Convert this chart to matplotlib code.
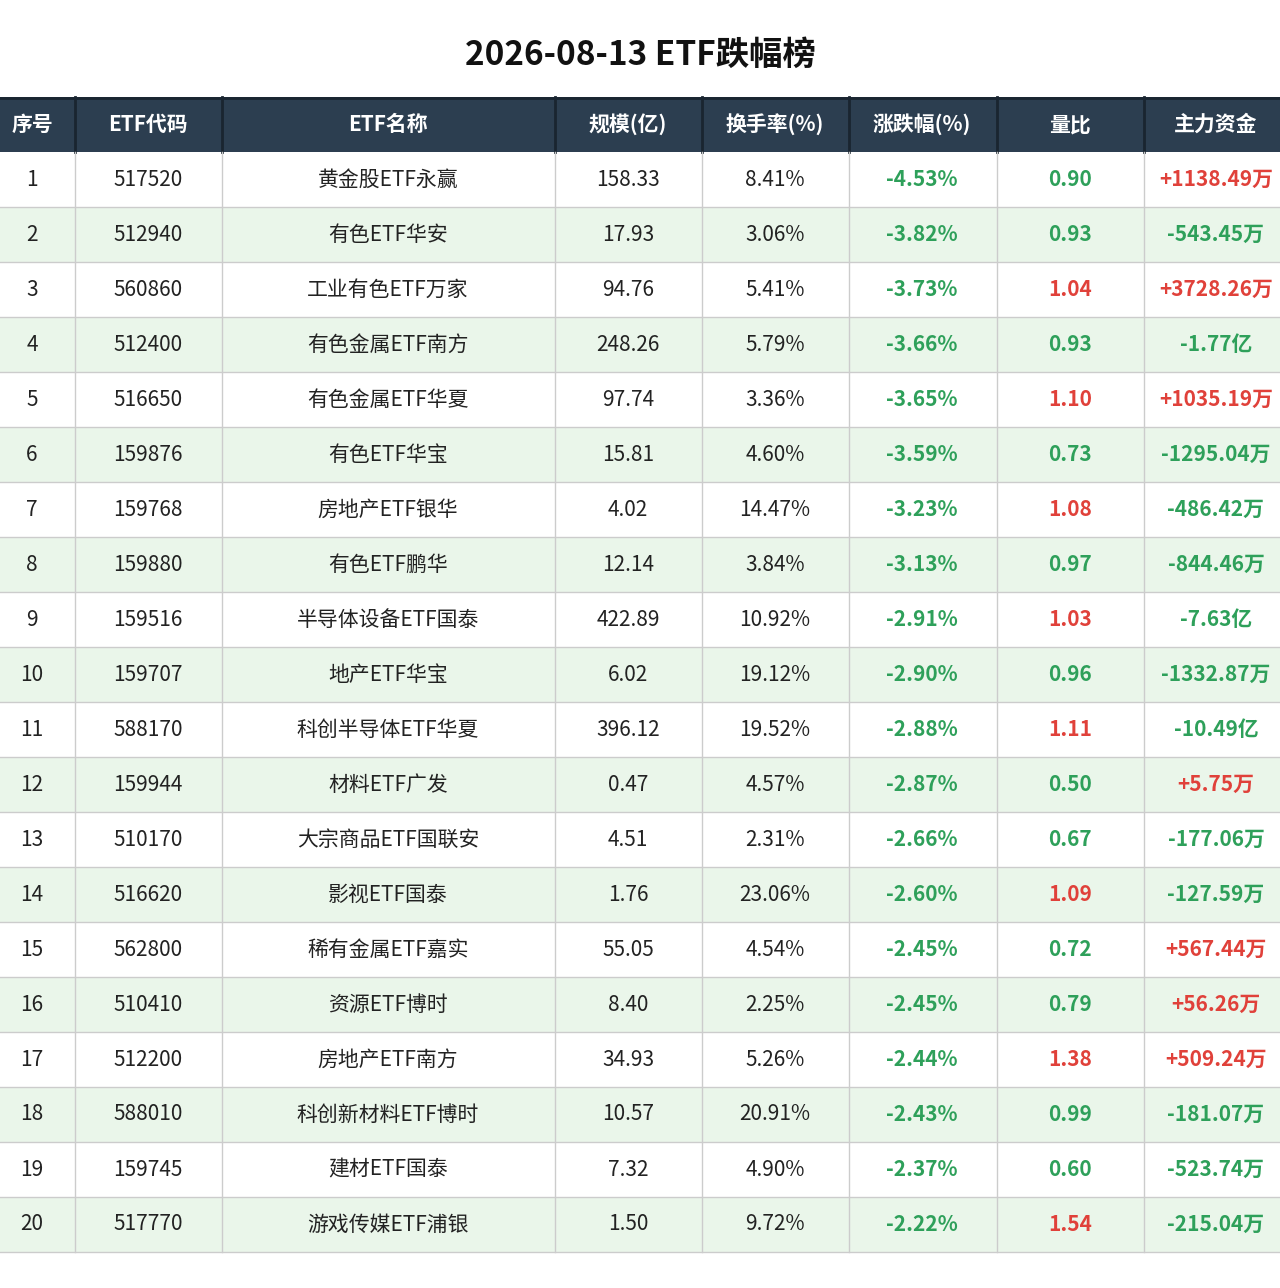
import matplotlib
matplotlib.use("Agg")
import matplotlib.pyplot as plt
from matplotlib.patches import Rectangle

plt.rcParams['font.family'] = ['Noto Sans CJK SC', 'DejaVu Sans']

title = "2026-08-13 ETF跌幅榜"
headers = ["序号", "ETF代码", "ETF名称", "规模(亿)", "换手率(%)", "涨跌幅(%)", "量比", "主力资金"]
codes = ["517520","512940","560860","512400","516650","159876","159768","159880","159516","159707",
         "588170","159944","510170","516620","562800","510410","512200","588010","159745","517770"]
names = ["黄金股ETF永赢","有色ETF华安","工业有色ETF万家","有色金属ETF南方","有色金属ETF华夏","有色ETF华宝",
         "房地产ETF银华","有色ETF鹏华","半导体设备ETF国泰","地产ETF华宝","科创半导体ETF华夏","材料ETF广发",
         "大宗商品ETF国联安","影视ETF国泰","稀有金属ETF嘉实","资源ETF博时","房地产ETF南方","科创新材料ETF博时",
         "建材ETF国泰","游戏传媒ETF浦银"]
scale = [158.33,17.93,94.76,248.26,97.74,15.81,4.02,12.14,422.89,6.02,396.12,0.47,4.51,1.76,55.05,8.40,34.93,10.57,7.32,1.50]
turnover = [8.41,3.06,5.41,5.79,3.36,4.60,14.47,3.84,10.92,19.12,19.52,4.57,2.31,23.06,4.54,2.25,5.26,20.91,4.90,9.72]
change = [-4.53,-3.82,-3.73,-3.66,-3.65,-3.59,-3.23,-3.13,-2.91,-2.90,-2.88,-2.87,-2.66,-2.60,-2.45,-2.45,-2.44,-2.43,-2.37,-2.22]
vol_ratio = [0.90,0.93,1.04,0.93,1.10,0.73,1.08,0.97,1.03,0.96,1.11,0.50,0.67,1.09,0.72,0.79,1.38,0.99,0.60,1.54]
flow = ["+1138.49万","-543.45万","+3728.26万","-1.77亿","+1035.19万","-1295.04万","-486.42万","-844.46万",
        "-7.63亿","-1332.87万","-10.49亿","+5.75万","-177.06万","-127.59万","+567.44万","+56.26万",
        "+509.24万","-181.07万","-523.74万","-215.04万"]

W, H = 1280, 1288
fig = plt.figure(figsize=(W/100, H/100), dpi=100)
ax = fig.add_axes([0, 0, 1, 1])
ax.set_xlim(0, W); ax.set_ylim(H, 0); ax.axis('off')

col_edges = [0, 75, 222, 555, 702, 849, 997, 1144, 1290]
centers = [32, 148, 388, 628, 775, 922, 1070, 1216]
head_top, head_h, row_h = 97, 55, 55
GREEN, RED, NAVY = "#2ea05a", "#e0413a", "#2c3e50"

ax.text(640, 55, title, ha='center', va='center', fontsize=24, fontweight='bold', color='#111')
ax.add_patch(Rectangle((0, head_top), W, head_h, color=NAVY, lw=0))
ax.plot([0, W], [head_top+1, head_top+1], color="#1a2530", lw=2)
for i, h in enumerate(headers):
    ax.text(centers[i], head_top + head_h/2, h, ha='center', va='center', fontsize=15, color='white', fontweight='bold')
for x in col_edges[1:-1]:
    ax.plot([x, x], [head_top, head_top+head_h], color="#1a2530", lw=2)

for r in range(len(codes)):
    y0 = head_top + head_h + r*row_h
    if r % 2 == 1:
        ax.add_patch(Rectangle((0, y0), W, row_h, color="#eaf6ea", lw=0))
    ax.plot([0, W], [y0+row_h, y0+row_h], color="#cccccc", lw=1)
    yc = y0 + row_h/2
    vals = [str(r+1), codes[r], names[r], f"{scale[r]:.2f}", f"{turnover[r]:.2f}%"]
    for i, v in enumerate(vals):
        ax.text(centers[i], yc, v, ha='center', va='center', fontsize=15, color='#222')
    ax.text(centers[5], yc, f"{change[r]:.2f}%", ha='center', va='center', fontsize=15, color=GREEN, fontweight='bold')
    ax.text(centers[6], yc, f"{vol_ratio[r]:.2f}", ha='center', va='center', fontsize=15,
            color=RED if vol_ratio[r] > 1 else GREEN, fontweight='bold')
    ax.text(centers[7], yc, flow[r], ha='center', va='center', fontsize=15,
            color=RED if flow[r].startswith('+') else GREEN, fontweight='bold')

bottom = head_top + head_h + len(codes)*row_h
for x in col_edges[1:-1]:
    ax.plot([x, x], [head_top+head_h, bottom], color="#cccccc", lw=1)
fig.savefig("out.png", dpi=100, facecolor='white')
